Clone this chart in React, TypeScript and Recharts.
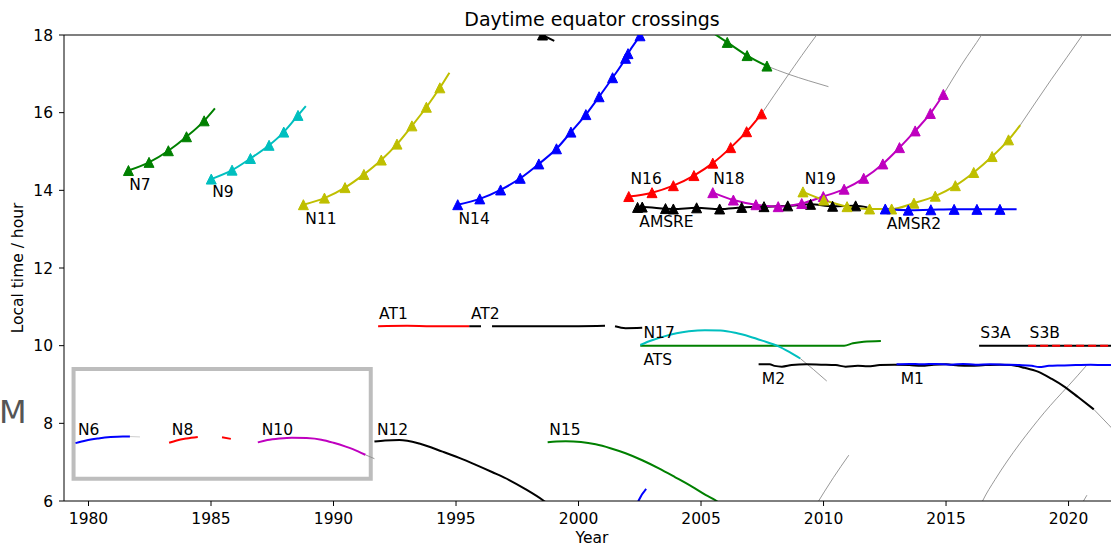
import React from 'react';
import { ComposedChart, Line, XAxis, YAxis, ReferenceArea, ReferenceLine, Scatter } from 'recharts';

const X_TICKS = [1980, 1985, 1990, 1995, 2000, 2005, 2010, 2015, 2020];
const Y_TICKS = [6, 8, 10, 12, 14, 16, 18];

// [year, local hour, marker (1 = triangle)]
const N7 = [[1981.63, 14.51, 1], [1982.47, 14.72, 1], [1983.26, 15.02, 1], [1984.0, 15.38, 1], [1984.72, 15.79, 1], [1985.16, 16.11, 0]];
const N9 = [[1985.01, 14.29, 1], [1985.86, 14.52, 1], [1986.61, 14.82, 1], [1987.37, 15.16, 1], [1987.97, 15.5, 1], [1988.55, 15.93, 1], [1988.87, 16.17, 0]];
const N11 = [[1988.77, 13.63, 1], [1989.63, 13.8, 1], [1990.47, 14.07, 1], [1991.24, 14.41, 1], [1991.95, 14.78, 1], [1992.59, 15.19, 1], [1993.2, 15.66, 1], [1993.79, 16.14, 1], [1994.34, 16.64, 1], [1994.73, 17.03, 0]];
const N14 = [[1995.07, 13.63, 1], [1995.97, 13.78, 1], [1996.82, 14.01, 1], [1997.62, 14.31, 1], [1998.38, 14.68, 1], [1999.1, 15.07, 1], [1999.69, 15.5, 1], [2000.3, 15.95, 1], [2000.84, 16.41, 1], [2001.39, 16.9, 1], [2001.92, 17.4, 1], [2002.02, 17.52, 1], [2002.51, 17.98, 1], [2002.75, 18.22, 0]];
const N12_PM = [[1998.2, 18.12, 0], [1998.53, 18.0, 1], [1999.01, 17.85, 0]];
const N15_PM = [[2005.26, 18.15, 1], [2006.07, 17.81, 1], [2006.88, 17.47, 1], [2007.69, 17.2, 1]];
const N15_PM_EXT = [[2007.69, 17.2], [2008.57, 16.99], [2009.4, 16.82], [2010.2, 16.67]];
const N16 = [[2002.05, 13.84, 1], [2003.0, 13.94, 1], [2003.87, 14.12, 1], [2004.71, 14.38, 1], [2005.48, 14.7, 1], [2006.21, 15.1, 1], [2006.86, 15.51, 1], [2007.47, 15.97, 1]];
const N16_EXT = [[2007.47, 15.97], [2008.5, 16.92], [2009.72, 18.0], [2009.9, 18.15]];
const N18 = [[2005.48, 13.94, 1], [2006.32, 13.75, 1], [2007.24, 13.63, 1], [2008.15, 13.58, 1], [2009.11, 13.66, 1], [2009.99, 13.84, 1], [2010.84, 14.03, 1], [2011.64, 14.31, 1], [2012.42, 14.68, 1], [2013.1, 15.1, 1], [2013.74, 15.53, 1], [2014.36, 15.98, 1], [2014.89, 16.47, 1]];
const N18_EXT = [[2014.89, 16.47], [2015.65, 17.25], [2016.45, 18.0], [2016.6, 18.15]];
const N19 = [[2009.16, 13.96, 1], [2010.01, 13.75, 1], [2010.96, 13.58, 1], [2011.88, 13.52, 1], [2012.78, 13.52, 1], [2013.69, 13.67, 1], [2014.56, 13.85, 1], [2015.38, 14.12, 1], [2016.13, 14.46, 1], [2016.88, 14.87, 1], [2017.55, 15.3, 1], [2018.03, 15.68, 0]];
const N19_EXT = [[2018.03, 15.68], [2019.3, 16.86], [2020.57, 18.0], [2020.7, 18.12]];
const AMSRE = [[2002.41, 13.56, 1], [2002.6, 13.57, 1], [2003.55, 13.53, 1], [2003.87, 13.52, 1], [2004.82, 13.55, 1], [2005.76, 13.52, 1], [2006.66, 13.56, 1], [2007.57, 13.58, 1], [2008.54, 13.6, 1], [2009.47, 13.64, 1], [2010.37, 13.59, 1], [2011.31, 13.6, 1], [2011.79, 13.56, 0]];
const AMSR2 = [[2012.52, 13.52, 1], [2013.46, 13.49, 1], [2014.38, 13.5, 1], [2015.33, 13.51, 1], [2016.26, 13.51, 1], [2017.2, 13.51, 1], [2017.88, 13.51, 0]];

const N6 = [[1979.47, 7.49], [1979.9, 7.56], [1980.4, 7.61], [1980.9, 7.645], [1981.4, 7.66], [1981.69, 7.66]];
const N6_EXT = [[1981.69, 7.66], [1982.1, 7.65]];
const N8 = [[1983.29, 7.5], [1983.6, 7.56], [1984.0, 7.61], [1984.46, 7.65], [1985.0, null], [1985.45, 7.64], [1985.81, 7.6]];
const N10 = [[1986.91, 7.51], [1987.3, 7.57], [1987.8, 7.61], [1988.3, 7.63], [1988.9, 7.62], [1989.5, 7.58], [1990.0, 7.5], [1990.5, 7.4], [1991.0, 7.28], [1991.3, 7.19]];
const N10_EXT = [[1991.3, 7.19], [1991.67, 7.09]];
const N12 = [[1991.67, 7.53], [1992.1, 7.56], [1992.69, 7.57], [1993.5, 7.48], [1994.45, 7.27], [1995.13, 7.11], [1995.81, 6.93], [1996.49, 6.74], [1997.17, 6.54], [1997.85, 6.3], [1998.55, 6.02], [1998.7, 5.95]];
const N15 = [[1998.74, 7.51], [1999.1, 7.53], [1999.48, 7.54], [2000.1, 7.52], [2000.7, 7.46], [2001.3, 7.36], [2001.92, 7.23], [2002.6, 7.05], [2003.28, 6.84], [2003.95, 6.61], [2004.63, 6.37], [2005.2, 6.15], [2005.59, 6.02], [2005.7, 5.97]];
const N16_AM = [[2002.4, 5.93], [2002.46, 6.02], [2002.76, 6.31]];
const GRAY_A = [[2009.7, 5.9], [2010.4, 6.6], [2011.03, 7.18]];
const GRAY_B = [[2016.4, 5.88], [2016.49, 6.0], [2017.0, 6.55], [2017.5, 7.03], [2018.0, 7.47], [2018.5, 7.88], [2019.0, 8.27], [2019.5, 8.63], [2020.0, 8.97], [2020.72, 9.48]];
const GRAY_C = [[2020.55, 5.93], [2020.61, 6.0], [2020.75, 6.15]];
const AT1 = [[1991.82, 10.5], [1993.0, 10.51], [1994.0, 10.5], [1995.54, 10.5]];
const AT2 = [[1995.54, 10.5], [1996.02, 10.5], [1996.25, null], [1996.47, 10.5], [1998.0, 10.5], [2000.0, 10.5], [2001.08, 10.51], [2001.3, null], [2001.49, 10.5], [2001.92, 10.45], [2002.6, 10.46]];
const N17 = [[2002.52, 10.02], [2003.0, 10.14], [2003.5, 10.24], [2004.0, 10.32], [2004.5, 10.37], [2005.16, 10.4], [2005.8, 10.39], [2006.4, 10.33], [2007.0, 10.23], [2007.5, 10.13], [2008.14, 9.99], [2008.6, 9.84], [2009.05, 9.67]];
const N17_EXT = [[2009.05, 9.67], [2009.6, 9.38], [2010.13, 9.09]];
const ATS = [[2002.52, 10.0], [2005.0, 10.0], [2008.0, 10.0], [2010.84, 10.0], [2011.2, 10.06], [2011.64, 10.1], [2012.34, 10.12]];
const M2 = [[2007.35, 9.52], [2007.8, 9.52], [2008.0, 9.48], [2008.3, 9.46], [2008.7, 9.5], [2009.3, 9.52], [2009.9, 9.51], [2010.5, 9.5], [2010.9, 9.46], [2011.4, 9.48], [2011.8, 9.47], [2012.3, 9.5], [2012.9, 9.51], [2013.5, 9.5], [2014.0, 9.48], [2014.5, 9.51], [2015.0, 9.52], [2015.5, 9.49], [2016.0, 9.48], [2016.6, 9.5], [2017.2, 9.51], [2017.66, 9.5], [2018.2, 9.43], [2018.75, 9.33], [2019.3, 9.15], [2019.84, 8.94], [2020.4, 8.67], [2021.03, 8.36]];
const M2_EXT = [[2021.03, 8.36], [2021.64, 7.96], [2022.1, 7.65]];
const M1 = [[2012.98, 9.52], [2013.5, 9.53], [2014.0, 9.52], [2014.6, 9.53], [2015.2, 9.51], [2015.7, 9.53], [2016.2, 9.51], [2016.8, 9.52], [2017.4, 9.51], [2018.0, 9.5], [2018.5, 9.48], [2018.8, 9.45], [2019.2, 9.48], [2019.7, 9.49], [2020.3, 9.5], [2020.9, 9.51], [2021.5, 9.5], [2022.1, 9.51]];
const S3A = [[2016.35, 10.0], [2022.1, 10.0]];
const S3B = [[2018.35, 10.0], [2022.1, 10.0]];

const LABEL_NAMES = ['N7', 'N9', 'N11', 'N14', 'N16', 'N18', 'N19', 'AMSRE', 'AMSR2', 'AT1', 'AT2', 'N17', 'ATS', 'M2', 'M1', 'S3A', 'S3B', 'N6', 'N8', 'N10', 'N12', 'N15'];
const LABEL_YEARS = [1981.66, 1985.05, 1988.85, 1995.1, 2002.12, 2005.5, 2009.23, 2002.48, 2012.58, 1991.86, 1995.61, 2002.65, 2002.65, 2007.48, 2013.15, 2016.4, 2018.41, 1979.57, 1983.4, 1987.07, 1991.77, 1998.81];
const LABEL_HOURS = [14.01, 13.82, 13.13, 13.13, 14.16, 14.16, 14.16, 13.06, 13.0, 10.69, 10.69, 10.21, 9.5, 9.01, 9.01, 10.2, 10.2, 7.7, 7.7, 7.7, 7.7, 7.7];

const BOX = { x1: 1979.39, x2: 1991.52, y1: 6.57, y2: 9.4 };

const G = '#008000';
const C = '#00bfbf';
const Y = '#bfbf00';
const B = '#0000ff';
const R = '#ff0000';
const M = '#bf00bf';
const K = '#000000';
const GR = '#8c8c8c';
const FONT = 'DejaVu Sans, sans-serif';

const toPts = (a: any[]) => a.map((r) => ({ x: r[0], y: r[1], m: r[2] || 0 }));
const labelPts = LABEL_NAMES.map((n, i) => ({ x: LABEL_YEARS[i], y: LABEL_HOURS[i], name: n }));

const tri = (color: string) => (p: any) => {
  const { cx, cy, payload, index } = p;
  if (!payload || !payload.m || cx == null || cy == null || isNaN(cy)) return <g key={`d${index}`} />;
  const s = 5;
  return (
    <path key={`d${index}`} d={`M${cx},${cy - s}L${cx - s},${cy + s}L${cx + s},${cy + s}Z`} fill={color} stroke={color} strokeWidth={1} />
  );
};

const series = (key: string, arr: any[], color: string, opts: any = {}) => (
  <Line
    key={key}
    data={toPts(arr)}
    dataKey="y"
    type="monotone"
    stroke={color}
    strokeWidth={opts.w || 2}
    strokeDasharray={opts.dash}
    dot={opts.markers ? tri(color) : false}
    activeDot={false}
    isAnimationActive={false}
    connectNulls={false}
    legendType="none"
  />
);

const LabelShape = (p: any) => (
  <text x={p.cx} y={p.cy} fontSize={15.5} fontFamily={FONT} fill="#000">
    {p.payload.name}
  </text>
);

export default function App() {
  return (
    <div style={{ position: 'absolute', left: 0, top: 0, width: 1111, height: 547, overflow: 'hidden', background: '#fff' }}>
      <ComposedChart width={1121} height={547} margin={{ top: 35, right: 1, bottom: 0, left: 0 }}>
        <XAxis
          dataKey="x"
          type="number"
          domain={[1979, 2022.1]}
          ticks={X_TICKS}
          interval={0}
          allowDataOverflow
          height={46}
          tickSize={5}
          tickMargin={7}
          stroke="#000"
          tick={{ fontSize: 15.5, fill: '#000', fontFamily: FONT }}
        />
        <YAxis
          dataKey="y"
          type="number"
          domain={[6, 18]}
          ticks={Y_TICKS}
          interval={0}
          allowDataOverflow
          width={64}
          tickSize={5}
          tickMargin={6}
          stroke="#000"
          tick={{ fontSize: 15.5, fill: '#000', fontFamily: FONT }}
        />
        <ReferenceLine y={18} stroke="#000" strokeWidth={1.2} />
        <ReferenceArea x1={BOX.x1} x2={BOX.x2} y1={BOX.y1} y2={BOX.y2} fill="none" fillOpacity={0} stroke="#bdbdbd" strokeWidth={4} strokeOpacity={1} ifOverflow="visible" />
        {series('n15e', N15_PM_EXT, GR, { w: 0.9 })}
        {series('n16e', N16_EXT, GR, { w: 0.9 })}
        {series('n18e', N18_EXT, GR, { w: 0.9 })}
        {series('n19e', N19_EXT, GR, { w: 0.9 })}
        {series('n17e', N17_EXT, GR, { w: 0.9 })}
        {series('m2e', M2_EXT, GR, { w: 0.9 })}
        {series('n6e', N6_EXT, '#c8c8c8', { w: 0.9 })}
        {series('n10e', N10_EXT, GR, { w: 0.9 })}
        {series('ga', GRAY_A, GR, { w: 0.9 })}
        {series('gb', GRAY_B, GR, { w: 0.9 })}
        {series('gc', GRAY_C, GR, { w: 0.9 })}
        {series('n7', N7, G, { markers: true })}
        {series('n9', N9, C, { markers: true })}
        {series('n11', N11, Y, { markers: true })}
        {series('n14', N14, B, { markers: true })}
        {series('n12pm', N12_PM, K, { markers: true })}
        {series('n15pm', N15_PM, G, { markers: true })}
        {series('n16', N16, R, { markers: true })}
        {series('amsre', AMSRE, K, { markers: true })}
        {series('n18', N18, M, { markers: true })}
        {series('n19', N19, Y, { markers: true })}
        {series('amsr2', AMSR2, B, { markers: true })}
        {series('n6', N6, B)}
        {series('n8', N8, R)}
        {series('n10', N10, M)}
        {series('n12', N12, K)}
        {series('n15', N15, G)}
        {series('n16am', N16_AM, B)}
        {series('at1', AT1, R)}
        {series('at2', AT2, K)}
        {series('ats', ATS, G)}
        {series('n17', N17, C)}
        {series('m2', M2, K)}
        {series('m1', M1, B)}
        {series('s3a', S3A, K)}
        {series('s3b', S3B, R, { dash: '8 4' })}
        <Scatter data={labelPts} dataKey="y" isAnimationActive={false} shape={LabelShape} legendType="none" />
      </ComposedChart>
      <svg width={1111} height={547} style={{ position: 'absolute', left: 0, top: 0, pointerEvents: 'none' }}>
        <text x={592} y={26} textAnchor="middle" fontSize={19} fontFamily={FONT} fill="#000">Daytime equator crossings</text>
        <text x={592} y={543} textAnchor="middle" fontSize={15.5} fontFamily={FONT} fill="#000">Year</text>
        <text x={23} y={268} textAnchor="middle" fontSize={15.5} fontFamily={FONT} fill="#000" transform="rotate(-90 23 268)">Local time / hour</text>
        <text x={-1} y={423} fontSize={32} fontFamily={FONT} fill="#555">M</text>
      </svg>
    </div>
  );
}
